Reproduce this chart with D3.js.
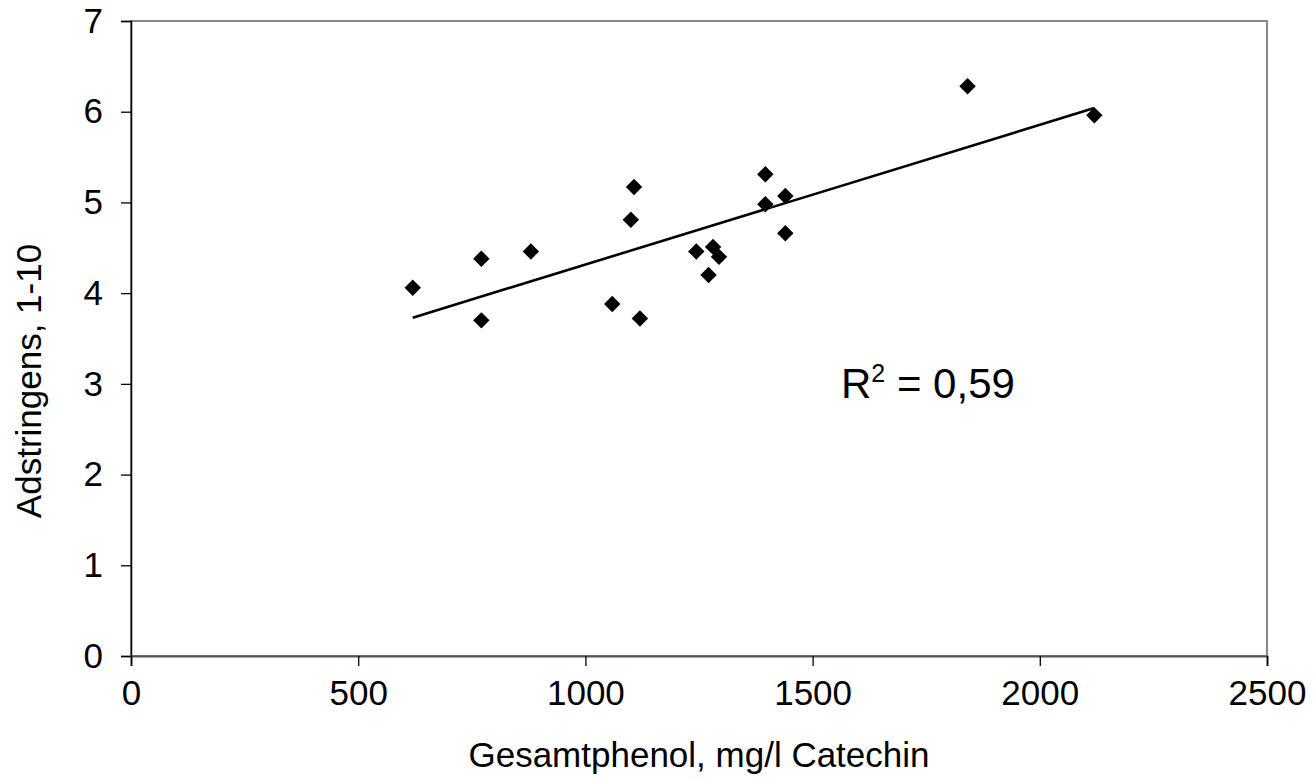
<!DOCTYPE html>
<html>
<head>
<meta charset="utf-8">
<script src="https://cdn.jsdelivr.net/npm/d3@7"></script>
<style>
  html, body { margin: 0; padding: 0; background: #fff; }
  svg { display: block; }
  text { font-family: "Liberation Sans", Arial, sans-serif; fill: #000; }
</style>
</head>
<body>
<svg id="chart" width="1313" height="779"></svg>
<script>
// ---- data ----
const gesamtphenol = [620, 771, 771, 880, 1059, 1100, 1107, 1120, 1244, 1281, 1294, 1271, 1396, 1396, 1440, 1440, 1841, 2120];
const adstringens  = [4.06, 4.38, 3.70, 4.46, 3.88, 4.81, 5.17, 3.72, 4.46, 4.51, 4.40, 4.20, 5.31, 4.98, 5.07, 4.66, 6.28, 5.96];
const trendX = [620, 2120];
const trendY = [3.73, 6.04];
const xTicks = [0, 500, 1000, 1500, 2000, 2500];
const yTicks = [0, 1, 2, 3, 4, 5, 6, 7];
const xTitle = "Gesamtphenol, mg/l Catechin";
const yTitle = "Adstringens, 1-10";
const rSquared = "0,59";

// ---- layout ----
const svg = d3.select("#chart");
const mLeft = 131, mRight = 1267, mTop = 21, mBottom = 656;

const x = d3.scaleLinear().domain([0, 2500]).range([mLeft, mRight]);
const y = d3.scaleLinear().domain([0, 7]).range([mBottom, mTop]);

// plot area border (gray)
svg.append("rect")
  .attr("x", mLeft).attr("y", mTop)
  .attr("width", mRight - mLeft).attr("height", mBottom - mTop)
  .attr("fill", "none").attr("stroke", "#888").attr("stroke-width", 2);

// y axis
const yAxis = svg.append("g")
  .attr("transform", `translate(${mLeft},0)`)
  .call(d3.axisLeft(y).tickValues(yTicks).tickSize(10).tickPadding(18).tickFormat(d3.format("d")));
yAxis.select(".domain").attr("stroke", "#000").attr("stroke-width", 1.5);
yAxis.selectAll(".tick line").attr("stroke", "#000").attr("stroke-width", 1.3);
yAxis.selectAll("text").attr("font-size", 35).attr("font-family", "Liberation Sans, Arial, sans-serif").attr("fill", "#000");

// x axis
const xAxis = svg.append("g")
  .attr("transform", `translate(0,${mBottom})`)
  .call(d3.axisBottom(x).tickValues(xTicks).tickSize(10).tickPadding(14).tickFormat(d3.format("d")));
xAxis.select(".domain").attr("stroke", "#555").attr("stroke-width", 2);
xAxis.selectAll(".tick line").attr("stroke", "#000").attr("stroke-width", 1.3);
xAxis.selectAll("text").attr("font-size", 35).attr("font-family", "Liberation Sans, Arial, sans-serif").attr("fill", "#000");

// trend line
const trend = trendX.map((v, i) => [v, trendY[i]]);
svg.append("path")
  .datum(trend)
  .attr("d", d3.line().x(d => x(d[0])).y(d => y(d[1])))
  .attr("fill", "none").attr("stroke", "#000").attr("stroke-width", 2.6);

// points (diamonds)
const pts = gesamtphenol.map((v, i) => ({ x: v, y: adstringens[i] }));
const diamond = d3.symbol().type(d3.symbolSquare).size(135);
svg.append("g").selectAll("path")
  .data(pts).join("path")
  .attr("d", diamond)
  .attr("transform", d => `translate(${x(d.x)},${y(d.y)}) rotate(45)`)
  .attr("fill", "#000");

// R² label
const rt = svg.append("text")
  .attr("x", 841).attr("y", 398)
  .attr("font-size", 42);
rt.append("tspan").text("R");
rt.append("tspan").attr("font-size", 25).attr("dy", -16).text("2");
rt.append("tspan").attr("dy", 16).text(" = " + rSquared);

// axis titles
svg.append("text")
  .attr("x", (mLeft + mRight) / 2).attr("y", 767)
  .attr("text-anchor", "middle").attr("font-size", 35)
  .text(xTitle);

svg.append("text")
  .attr("transform", `translate(41,381) rotate(-90)`)
  .attr("text-anchor", "middle").attr("font-size", 35)
  .text(yTitle);
</script>
</body>
</html>
